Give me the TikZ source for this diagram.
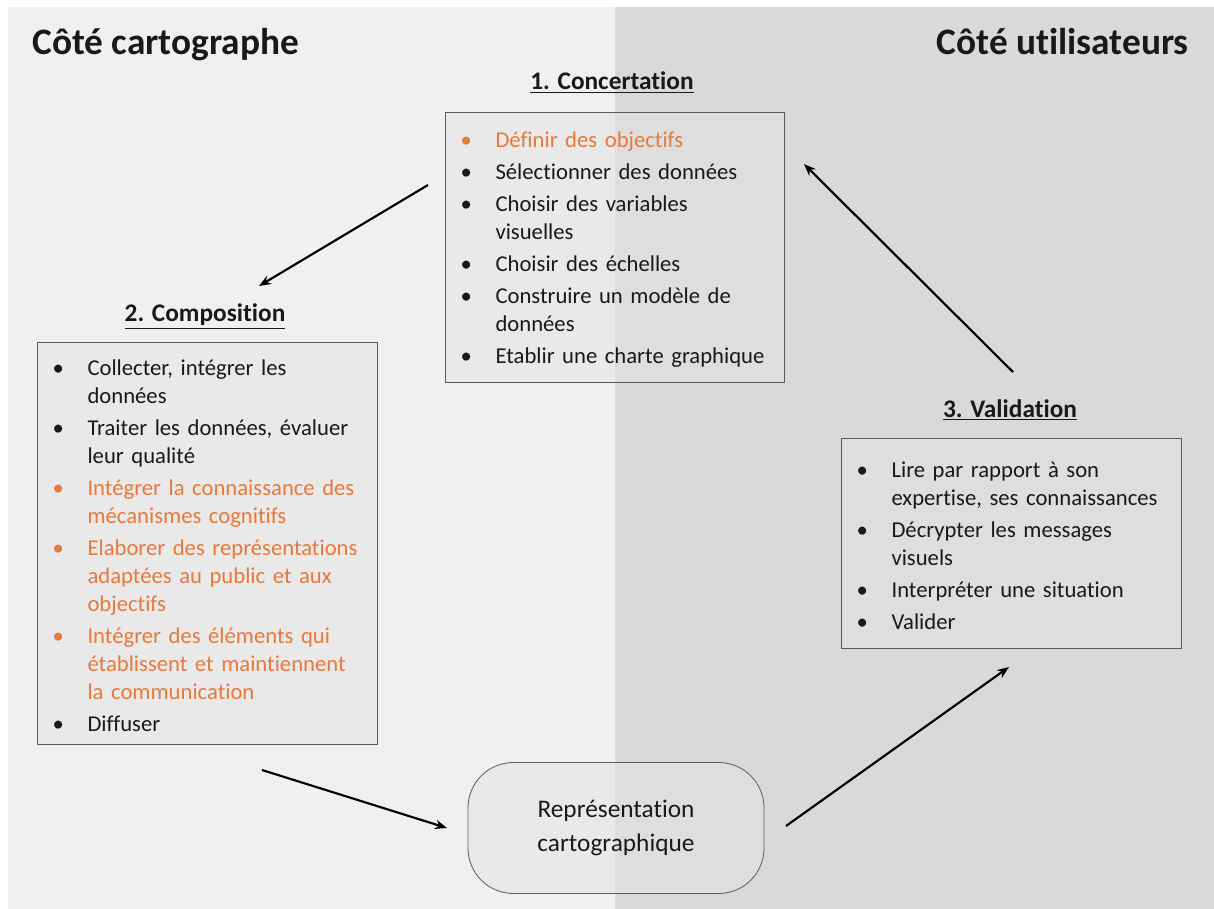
\documentclass[tikz,border=0pt]{standalone}
\usepackage{fontspec}
\setmainfont{Carlito}[Ligatures=NoCommon]
\usepackage{tikz}
\usetikzlibrary{arrows.meta, positioning}

\definecolor{leftbg}{RGB}{240,240,240}
\definecolor{rightbg}{RGB}{217,217,217}
\definecolor{boxfill}{RGB}{228,228,228}
\definecolor{boxline}{RGB}{90,90,90}
\definecolor{orangetxt}{RGB}{232,121,58}
\definecolor{ink}{RGB}{25,25,25}

% bullet item with hanging indent
\newcommand{\puce}[2][ink]{\par\hangindent=26.25pt\hangafter=1\noindent
  \textcolor{#1}{\makebox[26.25pt][l]{\textbullet}#2}}
\newcommand{\listend}{\par\vspace{9pt}}

\begin{document}
\begin{tikzpicture}[x=0.75pt, y=-0.75pt, text=ink]
    \tikzstyle{side} = [font=\fontsize{28pt}{32pt}\selectfont\bfseries, inner sep=0pt]
    \tikzstyle{header} = [font=\fontsize{19pt}{22pt}\selectfont\bfseries, inner sep=0pt]
    \tikzstyle{listbox} = [rectangle, draw=boxline, line width=0.8pt, fill=boxfill, fill opacity=0.5, text opacity=1, anchor=north west, inner xsep=11.25pt, inner ysep=0pt, font=\fontsize{17pt}{21pt}\selectfont, execute at begin node={\setlength{\parskip}{3pt}\raggedright}, execute at end node=\listend]
    \tikzstyle{outcome} = [rectangle, draw=boxline, line width=0.6pt, fill=boxfill, fill opacity=0.5, text opacity=1, rounded corners=34pt, minimum width=222pt, minimum height=98.25pt, align=center, font=\fontsize{19pt}{25pt}\selectfont]
    \tikzstyle{line} = [draw, -{Stealth[length=9pt, width=7pt]}, line width=1.6pt, black]

    \useasboundingbox (0,0) rectangle (1214,909);
    \fill[leftbg] (8,7) rectangle (615,909);
    \fill[rightbg] (615,7) rectangle (1214,909);

    \node [side, anchor=base west] (cartographe) at (32,55) {Côté cartographe};
    \node [side, anchor=base east] (utilisateurs) at (1189,55) {Côté utilisateurs};

    \node [header, anchor=base] (h1) at (612,90) {\underline{1. Concertation}};
    \node [header, anchor=base] (h2) at (205,322) {\underline{2. Composition}};
    \node [header, anchor=base] (h3) at (1010,417) {\underline{3. Validation}};

    \node [listbox, text width=231.75pt, minimum height=202.5pt] (concertation) at (445,112) {%
      \puce[orangetxt]{Définir des objectifs}
      \puce{Sélectionner des données}
      \puce{Choisir des variables\newline visuelles}
      \puce{Choisir des échelles}
      \puce{Construire un modèle de\newline données}
      \puce{Etablir une charte graphique}};

    \node [listbox, text width=232.5pt, minimum height=301.5pt] (composition) at (37,342) {%
      \puce{Collecter, intégrer les\newline données}
      \puce{Traiter les données, évaluer\newline leur qualité}
      \puce[orangetxt]{Intégrer la connaissance des\newline mécanismes cognitifs}
      \puce[orangetxt]{Elaborer des représentations\newline adaptées au public et aux\newline objectifs}
      \puce[orangetxt]{Intégrer des éléments qui\newline établissent et maintiennent\newline la communication}
      \puce{Diffuser}};

    \node [listbox, text width=232.5pt, minimum height=157.5pt] (validation) at (841,438) {%
      \puce{Lire par rapport à son\newline expertise, ses connaissances}
      \puce{Décrypter les messages\newline visuels}
      \puce{Interpréter une situation}
      \puce{Valider}};

    \node [outcome] (carte) at (616,828) {Représentation\\cartographique};

    \coordinate (a1s) at (428,185);
    \coordinate (a1e) at (259,286);
    \coordinate (a2s) at (1013,372);
    \coordinate (a2e) at (804,164);
    \coordinate (a3s) at (262,770);
    \coordinate (a3e) at (447,828);
    \coordinate (a4s) at (786,826);
    \coordinate (a4e) at (1009,667);

    \path [line] (a1s) -- (a1e);
    \path [line] (a2s) -- (a2e);
    \path [line] (a3s) -- (a3e);
    \path [line] (a4s) -- (a4e);
\end{tikzpicture}
\end{document}
